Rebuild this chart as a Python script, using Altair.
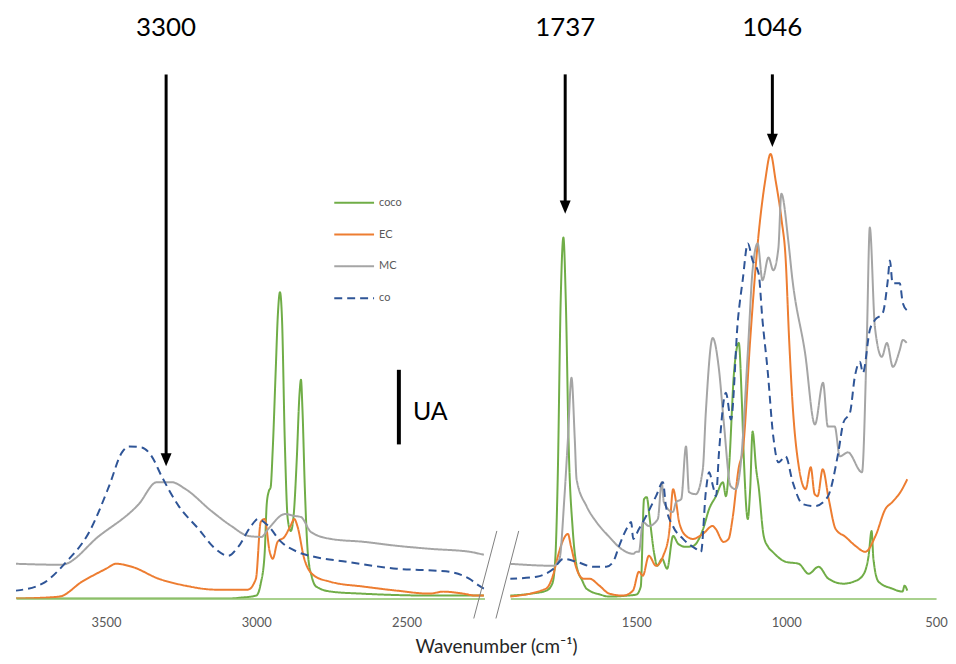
import altair as alt
import pandas as pd

# ---------------- data ----------------
series_names = ["coco", "EC", "MC", "co"]
series_colors = ["#70AD47", "#ED7D31", "#A5A5A5", "#2F5597"]
series_dash = [[1, 0], [1, 0], [1, 0], [8, 5]]

coco_wn = [3800, 3100, 3050, 3000, 2985, 2972, 2965, 2958, 2952, 2945, 2935, 2928, 2921, 2914,
           2905, 2895, 2885, 2875, 2865, 2856, 2851, 2846, 2838, 2828, 2815, 2800, 2750, 2650,
           2400, 2242,
           1922, 1850, 1800, 1780, 1770, 1762, 1752, 1743, 1735, 1725, 1712, 1699, 1680, 1666,
           1620, 1590, 1530, 1500, 1485, 1474, 1465, 1455, 1440, 1430, 1414, 1397, 1377, 1360,
           1335, 1310, 1277, 1257, 1234, 1211, 1201, 1191, 1174, 1158, 1148, 1141, 1128, 1120,
           1112, 1100, 1092, 1075, 1060, 1045, 1002, 958, 925, 892, 859, 809, 775, 745, 725,
           715, 709, 692, 646, 612, 605, 596]
coco_abs = [0, 0, 1, 3, 15, 45, 95, 108, 112, 150, 230, 285, 308, 280,
            160, 80, 68, 85, 140, 205, 220, 190, 110, 45, 22, 12, 7, 5,
            3, 3,
            3, 5, 8, 15, 40, 120, 300, 363, 300, 150, 70, 33, 18, 10,
            4, 2, 3, 4, 12, 100, 102, 80, 45, 33, 40, 30, 63, 55,
            52, 53, 70, 90, 103, 117, 103, 130, 227, 257, 200, 140, 80, 110,
            168, 130, 113, 63, 52, 47, 37, 35, 25, 32, 20, 15, 17, 23, 43,
            68, 40, 17, 10, 7, 13, 8]

ec_wn = [3800, 3656, 3580, 3500, 3467, 3414, 3325, 3236, 3137, 3028, 3001, 2985, 2972, 2955,
         2945, 2929, 2906, 2886, 2873, 2863, 2840, 2807, 2754, 2641, 2532, 2423, 2377, 2311,
         2268, 2242,
         1922, 1801, 1778, 1761, 1745, 1728, 1718, 1699, 1676, 1656, 1623, 1590, 1544, 1511,
         1491, 1478, 1458, 1434, 1410, 1390, 1377, 1367, 1357, 1334, 1311, 1278, 1245, 1235,
         1209, 1192, 1179, 1159, 1143, 1120, 1093, 1070, 1052, 1035, 1015, 1002, 990, 978,
         958, 935, 918, 905, 895, 878, 858, 835, 802, 769, 736, 702, 669, 646, 619, 596]
ec_abs = [0, 2, 17, 30, 35, 32, 20, 13, 9, 9, 20, 77, 80, 47,
          40, 57, 62, 73, 80, 73, 40, 23, 17, 12, 8, 5, 7, 5,
          3, 3,
          2, 10, 23, 43, 58, 65, 53, 30, 20, 20, 13, 5, 3, 8,
          27, 23, 43, 33, 43, 67, 110, 97, 77, 63, 60, 65, 73, 70,
          57, 60, 80, 130, 153, 260, 363, 420, 447, 420, 380, 343, 260, 193,
          133, 110, 132, 105, 103, 130, 100, 70, 62, 53, 47, 63, 90, 97, 107, 120]

mc_wn = [3800, 3649, 3523, 3391, 3331, 3282, 3235, 3149, 3083, 3026, 2983, 2960, 2904, 2871,
         2851, 2818, 2752, 2640, 2530, 2420, 2288, 2242,
         1922, 1776, 1756, 1740, 1728, 1716, 1705, 1699, 1666, 1633, 1590, 1550, 1510, 1500,
         1491, 1478, 1458, 1428, 1415, 1408, 1378, 1367, 1350, 1334, 1324, 1301, 1278, 1268,
         1245, 1224, 1208, 1185, 1168, 1151, 1128, 1112, 1095, 1079, 1059, 1043, 1026, 1016,
         993, 980, 937, 904, 877, 861, 838, 821, 794, 747, 731, 721, 704, 681, 664, 644, 621,
         611, 598]
mc_abs = [35, 34, 63, 95, 117, 117, 110, 88, 73, 63, 62, 70, 85, 83,
          82, 67, 60, 57, 53, 50, 47, 44,
          35, 33, 40, 100, 160, 222, 160, 120, 93, 77, 62, 50, 45, 47,
          47, 77, 73, 80, 117, 97, 87, 97, 100, 153, 107, 105, 130, 187,
          262, 230, 177, 113, 110, 137, 247, 330, 357, 320, 343, 330, 352, 407,
          360, 323, 247, 175, 217, 173, 173, 143, 147, 127, 260, 373, 273, 243, 257, 233, 250,
          260, 257]

co_wn = [3800, 3712, 3632, 3556, 3490, 3447, 3424, 3381, 3348, 3315, 3258, 3192, 3136, 3093,
         3060, 3017, 2994, 2960, 2917, 2863, 2807, 2698, 2532, 2400, 2357, 2291, 2258, 2242,
         1922, 1832, 1776, 1743, 1699, 1643, 1600, 1577, 1557, 1527, 1517, 1510, 1491, 1467,
         1434, 1411, 1401, 1378, 1344, 1301, 1284, 1268, 1257, 1244, 1234, 1224, 1201, 1184,
         1161, 1145, 1128, 1112, 1092, 1079, 1062, 1043, 1026, 1002, 978, 945, 904, 862, 826,
         809, 787, 771, 754, 744, 721, 704, 678, 661, 654, 645, 621, 611, 598]
co_abs = [8, 15, 37, 67, 113, 147, 153, 152, 143, 123, 93, 70, 50, 43,
          52, 73, 80, 73, 57, 47, 42, 37, 30, 28, 27, 20, 13, 10,
          20, 22, 30, 40, 37, 32, 32, 37, 53, 73, 77, 60, 70, 83,
          103, 117, 93, 73, 60, 50, 47, 107, 127, 113, 103, 147, 207, 180,
          280, 320, 357, 340, 327, 280, 230, 163, 137, 143, 117, 95, 93, 102, 147,
          177, 187, 223, 238, 227, 270, 280, 287, 320, 340, 317, 317, 297, 290]

# panel domains and ticks of the broken axis
left_domain = [2240, 3800]
right_domain = [500, 1920]
left_ticks = [3500, 3000, 2500]
right_ticks = [1500, 1000, 500]

# annotations
peak_labels = ["3300", "1737", "1046"]
peak_wn = [3300, 1737, 1046]
peak_tip = [133, 387, 454]
arrow_top = 527
label_level = 574
ua_wn = [2525]
ua_low, ua_high = 155, 230
ua_text_wn = [2478]
ua_text_level = 188
break_wn_top = [1965, 1892]
break_wn_bottom = [2042, 1968]
break_top, break_bottom = 68, -20

# ---------------- build tables ----------------
rows = []
for name, wn, ab in [("coco", coco_wn, coco_abs), ("EC", ec_wn, ec_abs),
                     ("MC", mc_wn, mc_abs), ("co", co_wn, co_abs)]:
    for w, a in zip(wn, ab):
        rows.append({"series": name, "wn": w, "abs": a,
                     "panel": "left" if w > 2000 else "right"})
df = pd.DataFrame(rows)

ann = pd.DataFrame({"label": peak_labels, "wn": peak_wn, "tip": peak_tip,
                    "top": arrow_top, "level": label_level})
ann["line_end"] = ann["tip"] + 9
ann["panel"] = ["left" if w > 2000 else "right" for w in peak_wn]

FONT = "Lato"
Y_MAX = 592

legend = alt.Legend(title=None, orient="none", legendX=319, legendY=188,
                    symbolType="stroke", symbolSize=1600, symbolStrokeWidth=2,
                    labelFont=FONT, labelFontSize=11, labelColor="#595959",
                    labelOffset=4, clipHeight=12, rowPadding=20, padding=0)
color = alt.Color("series:N", scale=alt.Scale(domain=series_names, range=series_colors),
                  legend=legend)
dash = alt.StrokeDash("series:N", scale=alt.Scale(domain=series_names, range=series_dash),
                      legend=legend)
yenc = alt.Y("abs:Q", scale=alt.Scale(domain=[0, Y_MAX], nice=False, zero=False), axis=None)


def make_panel(panel, domain, ticks, width):
    xscale = alt.Scale(domain=domain, reverse=True, nice=False, zero=False)
    xaxis = alt.Axis(values=ticks, title=None, ticks=False, grid=False, labelFlush=False,
                     labelFont=FONT, labelFontSize=13, labelColor="#595959",
                     labelPadding=18, domainColor="#A9D18E", domainWidth=2, format="d")
    base = alt.Chart(df[df.panel == panel])
    lines = base.mark_line(strokeWidth=2, clip=True, interpolate="monotone").encode(
        x=alt.X("wn:Q", scale=xscale, axis=xaxis),
        y=yenc,
        color=color,
        strokeDash=dash,
        order="wn:Q",
    )
    a = alt.Chart(ann[ann.panel == panel])
    shaft = a.mark_rule(color="black", strokeWidth=3).encode(
        x=alt.X("wn:Q", scale=xscale), y=alt.Y("top:Q", scale=alt.Scale(domain=[0, Y_MAX])),
        y2="line_end:Q")
    head = a.mark_point(shape="M-1,-2.4L1,-2.4L0,0Z", filled=True, size=121,
                        color="black", opacity=1).encode(
        x=alt.X("wn:Q", scale=xscale), y=alt.Y("tip:Q", scale=alt.Scale(domain=[0, Y_MAX])))
    txt = a.mark_text(font=FONT, fontSize=26, color="black", baseline="middle").encode(
        x=alt.X("wn:Q", scale=xscale), y=alt.Y("level:Q", scale=alt.Scale(domain=[0, Y_MAX])),
        text="label:N")
    layers = [lines, shaft, head, txt]
    if panel == "left":
        ua = pd.DataFrame({"wn": ua_wn, "lo": [ua_low], "hi": [ua_high]})
        bar = alt.Chart(ua).mark_rule(color="black", strokeWidth=4).encode(
            x=alt.X("wn:Q", scale=xscale), y=alt.Y("lo:Q", scale=alt.Scale(domain=[0, Y_MAX])),
            y2="hi:Q")
        uat = alt.Chart(pd.DataFrame({"wn": ua_text_wn, "lv": [ua_text_level], "t": ["UA"]})
                        ).mark_text(font=FONT, fontSize=25, color="black", align="left",
                                    baseline="middle").encode(
            x=alt.X("wn:Q", scale=xscale), y=alt.Y("lv:Q", scale=alt.Scale(domain=[0, Y_MAX])),
            text="t:N")
        layers += [bar, uat]
    else:
        br = pd.DataFrame({"x1": break_wn_top, "x2": break_wn_bottom,
                           "y1": break_top, "y2": break_bottom})
        brk = alt.Chart(br).mark_rule(color="#7F7F7F", strokeWidth=1).encode(
            x=alt.X("x1:Q", scale=xscale), x2="x2:Q",
            y=alt.Y("y1:Q", scale=alt.Scale(domain=[0, Y_MAX])), y2="y2:Q")
        layers += [brk]
    return alt.layer(*layers).properties(width=width, height=Y_MAX)


left = make_panel("left", left_domain, left_ticks, 471)
right = make_panel("right", right_domain, right_ticks, 428)

chart = alt.hconcat(left, right, spacing=26, bounds="flush").properties(
    padding={"left": 8, "top": 0, "right": 0, "bottom": 0},
    title=alt.TitleParams("Wavenumber (cm⁻¹)", orient="bottom", anchor="middle",
                          font=FONT, fontSize=19, fontWeight="normal", color="#262626",
                          dx=15, offset=9),
).configure_view(stroke=None)

chart.save("out.html", embed_options={"renderer": "svg", "actions": False})
